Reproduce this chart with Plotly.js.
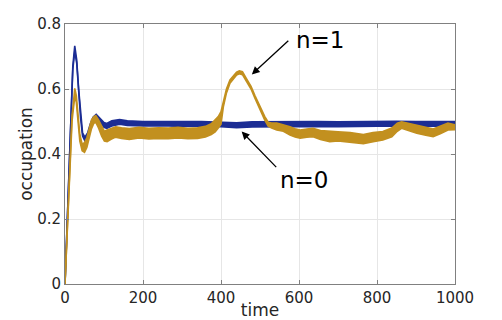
<!DOCTYPE html>
<html>
<head>
<meta charset="utf-8">
<script src="https://cdn.plot.ly/plotly-3.0.1.min.js"></script>
<style>
  html, body { margin: 0; padding: 0; background: #fff; }
  #chart { width: 502px; height: 320px; }
</style>
</head>
<body>
<div id="chart"></div>
<script>
// n=0 envelope (fast oscillation drawn as a band)
var time0 = [0, 5, 10, 15, 20, 25, 30, 35, 40, 45, 51, 58, 65, 72, 80, 90, 100, 107, 120, 140, 160, 200, 250, 300, 350, 400, 440, 480, 550, 600, 650, 700, 750, 800, 850, 900, 950, 1000];
var n0Low  = [0, 0.15, 0.32, 0.5, 0.66, 0.715, 0.68, 0.59, 0.51, 0.455, 0.44, 0.452, 0.48, 0.5, 0.51, 0.495, 0.482, 0.479, 0.486, 0.492, 0.488, 0.486, 0.487, 0.485, 0.486, 0.484, 0.481, 0.483, 0.484, 0.485, 0.485, 0.484, 0.485, 0.485, 0.486, 0.485, 0.486, 0.486];
var n0High = [0, 0.155, 0.325, 0.505, 0.67, 0.733, 0.69, 0.6, 0.52, 0.465, 0.452, 0.465, 0.493, 0.513, 0.522, 0.508, 0.497, 0.494, 0.502, 0.506, 0.502, 0.5, 0.501, 0.5, 0.5, 0.499, 0.496, 0.499, 0.5, 0.5, 0.5, 0.499, 0.5, 0.5, 0.501, 0.5, 0.501, 0.5];

// n=1 envelope
var time1 = [0, 5, 10, 15, 18, 21, 25, 29, 33, 38, 44, 50, 56, 62, 68, 74, 79, 86, 94, 101, 108, 118, 130, 145, 165, 190, 215, 240, 265, 290, 315, 340, 360, 375, 385, 393, 400, 406, 414, 423, 432, 440, 447, 455, 466, 477, 487, 496, 504, 512, 521, 530, 543, 560, 577, 590, 603, 620, 636, 655, 679, 700, 731, 765, 790, 815, 838, 852, 863, 880, 902, 925, 944, 962, 982, 1000];
var n1Low  = [0, 0.13, 0.3, 0.44, 0.5, 0.535, 0.575, 0.56, 0.5, 0.44, 0.41, 0.405, 0.42, 0.45, 0.478, 0.495, 0.497, 0.48, 0.455, 0.44, 0.438, 0.445, 0.452, 0.448, 0.445, 0.449, 0.446, 0.448, 0.447, 0.449, 0.447, 0.448, 0.452, 0.46, 0.468, 0.48, 0.492, 0.545, 0.588, 0.618, 0.632, 0.643, 0.647, 0.644, 0.622, 0.6, 0.572, 0.55, 0.526, 0.505, 0.486, 0.48, 0.474, 0.47, 0.458, 0.452, 0.449, 0.452, 0.453, 0.445, 0.438, 0.44, 0.436, 0.432, 0.438, 0.443, 0.453, 0.47, 0.479, 0.472, 0.464, 0.458, 0.453, 0.462, 0.474, 0.475];
var n1High = [0, 0.14, 0.31, 0.46, 0.52, 0.55, 0.602, 0.58, 0.52, 0.46, 0.43, 0.435, 0.45, 0.48, 0.505, 0.515, 0.518, 0.505, 0.485, 0.47, 0.474, 0.478, 0.484, 0.481, 0.478, 0.482, 0.479, 0.481, 0.48, 0.482, 0.479, 0.481, 0.485, 0.493, 0.505, 0.515, 0.53, 0.56, 0.6, 0.628, 0.64, 0.652, 0.656, 0.653, 0.63, 0.608, 0.58, 0.558, 0.534, 0.516, 0.498, 0.495, 0.495, 0.49, 0.484, 0.478, 0.474, 0.477, 0.479, 0.472, 0.469, 0.468, 0.466, 0.46, 0.466, 0.469, 0.48, 0.495, 0.499, 0.495, 0.489, 0.482, 0.477, 0.485, 0.495, 0.49];

var xTicks = [0, 200, 400, 600, 800, 1000];
var yTicks = [0, 0.2, 0.4, 0.6, 0.8];

var blue = "#1c2d94";
var gold = "#c2901f";

function band(x, lo, hi, color) {
    var edge = {color: color, width: 1.6};
    return [
        {x: x, y: lo, type: "scatter", mode: "lines", line: edge, showlegend: false},
        {x: x, y: hi, type: "scatter", mode: "lines", line: edge, fill: "tonexty", fillcolor: color, showlegend: false}
    ];
}

var data = band(time0, n0Low, n0High, blue).concat(band(time1, n1Low, n1High, gold));

var axisStyle = {
    showline: true,
    linecolor: "#808080",
    linewidth: 1,
    mirror: "ticks",
    ticks: "inside",
    ticklen: 4,
    tickcolor: "#808080",
    showgrid: true,
    gridcolor: "#e6e6e6",
    zeroline: false,
    tickfont: {family: "DejaVu Sans", size: 15, color: "#262626"}
};

var layout = {
    width: 502,
    height: 320,
    margin: {l: 65, r: 47, t: 24, b: 36},
    paper_bgcolor: "#ffffff",
    plot_bgcolor: "#ffffff",
    showlegend: false,
    hovermode: false,
    xaxis: Object.assign({}, axisStyle, {
        range: [0, 1000],
        tickvals: xTicks,
        title: {text: "time", font: {family: "DejaVu Sans", size: 17, color: "#262626"}, standoff: 0}
    }),
    yaxis: Object.assign({}, axisStyle, {
        range: [0, 0.8],
        tickvals: yTicks,
        title: {text: "occupation", font: {family: "DejaVu Sans", size: 17, color: "#262626"}, standoff: 0}
    }),
    annotations: [
        {x: 479, y: 0.645, xref: "x", yref: "y", text: "", showarrow: true,
         ax: 38, ay: -35, arrowhead: 2, arrowsize: 1.2, arrowwidth: 1.3, arrowcolor: "#000"},
        {x: 453, y: 0.469, xref: "x", yref: "y", text: "", showarrow: true,
         ax: 36, ay: 37, arrowhead: 2, arrowsize: 1.2, arrowwidth: 1.3, arrowcolor: "#000"},
        {x: 654, y: 0.75, xref: "x", yref: "y", text: "n=1", showarrow: false,
         font: {family: "DejaVu Sans", size: 23, color: "#000"}},
        {x: 612, y: 0.32, xref: "x", yref: "y", text: "n=0", showarrow: false,
         font: {family: "DejaVu Sans", size: 23, color: "#000"}}
    ]
};

Plotly.newPlot("chart", data, layout, {staticPlot: true});
</script>
</body>
</html>
